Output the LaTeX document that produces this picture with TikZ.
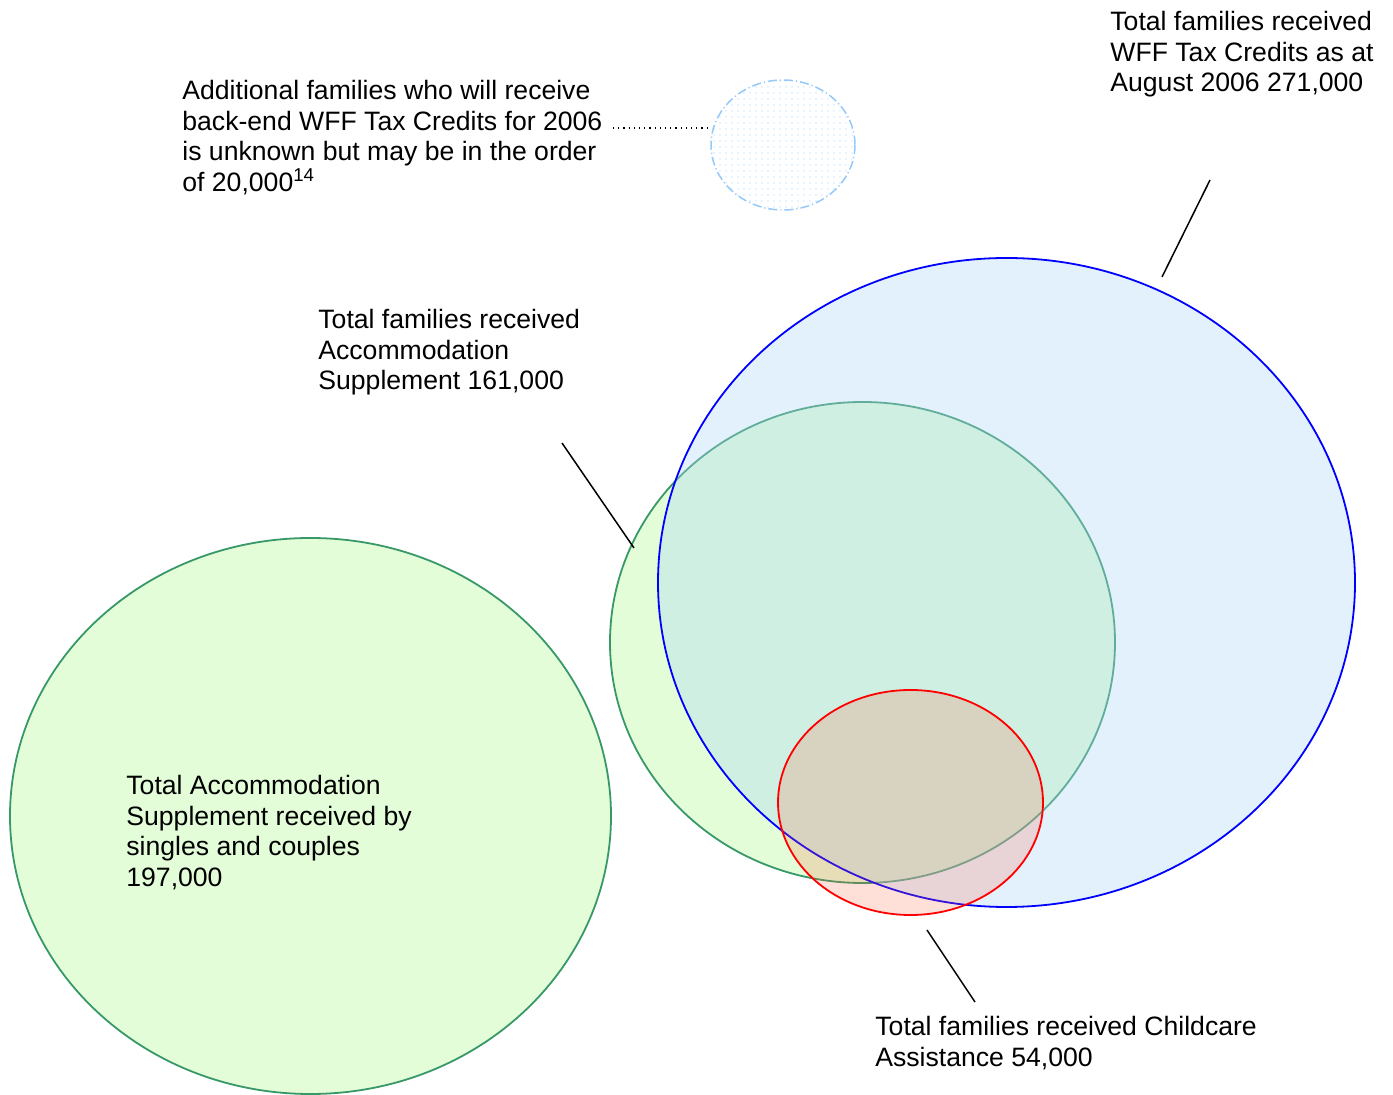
\documentclass[tikz,border=0pt]{standalone}
\usepackage{fontspec}
\setmainfont{Liberation Sans}
\usepackage{xcolor}
\usepackage{tikz}
\usetikzlibrary{patterns}
\definecolor{wffline}{RGB}{0,0,255}
\definecolor{wfffill}{RGB}{174,214,249}
\definecolor{accline}{RGB}{56,152,104}
\definecolor{accfill}{RGB}{226,253,216}
\definecolor{ccline}{RGB}{255,0,0}
\definecolor{ccfill}{RGB}{255,100,60}
\definecolor{extraline}{RGB}{150,200,250}

\begin{document}
\begin{tikzpicture}[
    x=0.5pt, y=-0.5pt,
    setlabel/.style={anchor=north west, inner sep=0pt, align=left, font=\fontsize{13.3}{15.3}\selectfont},
    leader/.style={draw=black, line width=0.75pt}
]
    \useasboundingbox (0,0) rectangle (1393,1095);

    % Centres of the sets
    \coordinate (single) at (310.5,816);
    \coordinate (wff) at (1006.5,582.5);
    \coordinate (accom) at (862.5,642.5);
    \coordinate (child) at (910.5,802.5);
    \coordinate (extra) at (783,145);

    % Singles and couples
    \filldraw[fill=accfill, draw=accline, line width=0.9pt] (single) ellipse [x radius=300.5, y radius=278];

    % Accommodation Supplement, WFF and Childcare sets
    \filldraw[fill=accfill, draw=accline, line width=0.9pt] (accom) ellipse [x radius=252.5, y radius=240.5];
    \fill[wfffill, fill opacity=0.35] (wff) ellipse [x radius=348.5, y radius=324.5];
    \draw[wffline, line width=0.9pt] (wff) ellipse [x radius=348.5, y radius=324.5];
    \fill[ccfill, fill opacity=0.2] (child) ellipse [x radius=132.5, y radius=112.5];
    \draw[ccline, line width=0.9pt] (child) ellipse [x radius=132.5, y radius=112.5];

    % Back-end credits (unknown)
    \fill[pattern=dots, pattern color=extraline!35] (extra) ellipse [x radius=72, y radius=65];
    \draw[extraline, line width=0.75pt, dash pattern=on 4.5pt off 1.5pt on 0.6pt off 1.5pt] (extra) ellipse [x radius=72, y radius=65];

    % Labels
    \node[setlabel] (lwff) at (1110,11) {Total families received\\WFF Tax Credits as at\\August 2006 271,000};
    \node[setlabel] (lextra) at (182,80) {Additional families who will receive\\back-end WFF Tax Credits for 2006\\is unknown but may be in the order\\of 20,000\textsuperscript{14}};
    \node[setlabel] (laccom) at (318,309) {Total families received\\Accommodation\\Supplement 161,000};
    \node[setlabel] (lsingle) at (126,775) {Total Accommodation\\Supplement received by\\singles and couples\\197,000};
    \node[setlabel] (lchild) at (875,1016) {Total families received Childcare\\Assistance 54,000};

    % Leader lines
    \coordinate (wffA) at (1210,180);
    \coordinate (wffB) at (1162,277);
    \coordinate (accA) at (562,443);
    \coordinate (accB) at (634,548);
    \coordinate (ccA) at (975,1002);
    \coordinate (ccB) at (927,930);
    \coordinate (exA) at (613,128);
    \coordinate (exB) at (708,128);
    \draw[leader] (wffA) -- (wffB);
    \draw[leader] (accA) -- (accB);
    \draw[leader] (ccA) -- (ccB);
    \draw[black, line width=0.6pt, dotted] (exA) -- (exB);
\end{tikzpicture}
\end{document}
